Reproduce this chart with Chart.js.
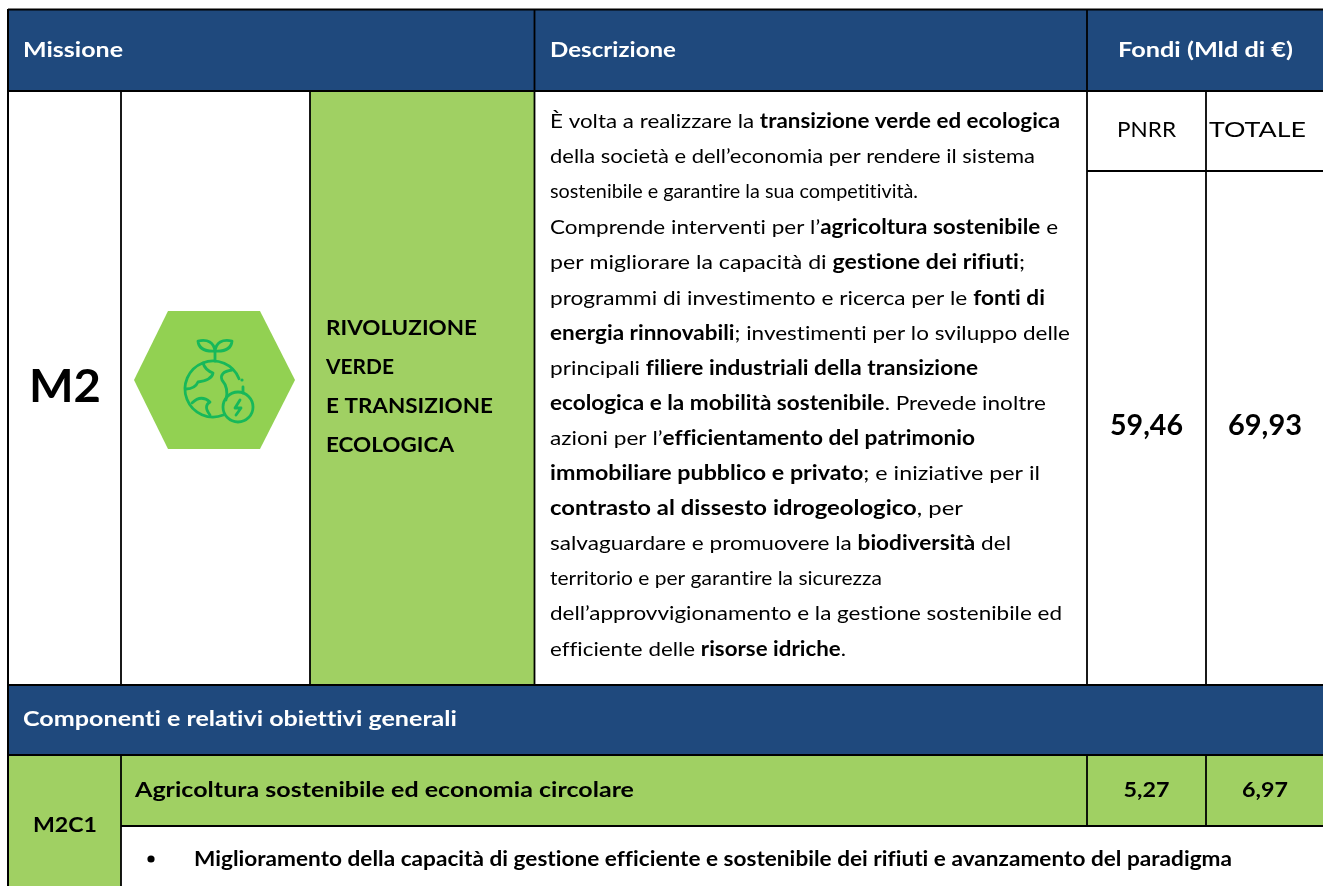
<!DOCTYPE html>
<html lang="it">
<head>
<meta charset="utf-8">
<title>M2 Rivoluzione verde e transizione ecologica</title>
<script src="https://cdn.jsdelivr.net/npm/chart.js@4"></script>
<style>
html,body{margin:0;padding:0;background:#fff;overflow:hidden}
#wrap{position:relative;width:1323px;height:886px}
canvas{display:block}
</style>
</head>
<body>
<div id="wrap"><canvas id="c" width="1323" height="886"></canvas></div>
<script>
// ---- content ----
const categories = ['M2', 'M2C1'];
const pnrrValues = [59.46, 5.27];
const totaleValues = [69.93, 6.97];
const headers = ['Missione', 'Descrizione', 'Fondi (Mld di €)'];
const fundColumns = ['PNRR', 'TOTALE'];
const missionTitle = ['RIVOLUZIONE', 'VERDE', 'E TRANSIZIONE', 'ECOLOGICA'];
const sectionTitle = 'Componenti e relativi obiettivi generali';
const componentTitle = 'Agricoltura sostenibile ed economia circolare';
const objective = 'Miglioramento della capacità di gestione efficiente e sostenibile dei rifiuti e avanzamento del paradigma';
const descriptionLines = [
  'È volta a realizzare la **transizione verde ed ecologica**',
  'della società e dell’economia per rendere il sistema',
  'sostenibile e garantire la sua competitività.',
  'Comprende interventi per l’**agricoltura sostenibile** e',
  'per migliorare la capacità di **gestione dei rifiuti**;',
  'programmi di investimento e ricerca per le **fonti di**',
  '**energia rinnovabili**; investimenti per lo sviluppo delle',
  'principali **filiere industriali della transizione**',
  '**ecologica e la mobilità sostenibile**. Prevede inoltre',
  'azioni per l’**efficientamento del patrimonio**',
  '**immobiliare pubblico e privato**; e iniziative per il',
  '**contrasto al dissesto idrogeologico**, per',
  'salvaguardare e promuovere la **biodiversità** del',
  'territorio e per garantire la sicurezza',
  'dell’approvvigionamento e la gestione sostenibile ed',
  'efficiente delle **risorse idriche**.'
];

// ---- layout and style (page geometry of the table, not data) ----
const NAVY = '#1F497D', GREEN = '#A0D063', HEX = '#92D152', ICON = '#17B85A';
const FONT = 'Lato, Carlito, sans-serif';
const descEnds = [1060,1035,918,1058,1025,1045,1070,978,1046,975,1040,963,1011,882,1062,846];
const descRows = [121,156,191,227,262,298,333,368,403,438,473,508,543,578,613,649];
const titleRows = [327,366,405,444];

const fmt = v => v.toFixed(2).replace('.', ',');

const tablePlugin = {
  id: 'tablePlugin',
  beforeDraw(chart) {
    const ctx = chart.ctx, sx = chart.scales.gridX, sy = chart.scales.gridY;
    const X = v => sx.getPixelForValue(v), Y = v => sy.getPixelForValue(v);
    const rect = (x0, y0, x1, y1, col) => { ctx.fillStyle = col; ctx.fillRect(X(x0), Y(y0), X(x1) - X(x0), Y(y1) - Y(y0)); };
    const line = (x0, y0, x1, y1, w = 1.8) => {
      ctx.strokeStyle = '#000'; ctx.lineWidth = w; ctx.beginPath();
      ctx.moveTo(X(x0), Y(y0)); ctx.lineTo(X(x1), Y(y1)); ctx.stroke();
    };
    // a tiny letter spacing switches off the font's ligatures
    const setFont = (size, bold) => {
      ctx.font = `${bold ? 'bold ' : ''}${size}px ${FONT}`;
      ctx.letterSpacing = '0.01px';
    };
    // one text piece, condensed or widened horizontally to the measured span
    const text = (str, x, y, size, opts = {}) => {
      const { bold = true, color = '#000', align = 'left', span = null } = opts;
      setFont(size, bold);
      ctx.fillStyle = color; ctx.textBaseline = 'alphabetic'; ctx.textAlign = 'left';
      const w = ctx.measureText(str).width, target = span || w;
      const x0 = align === 'center' ? x - target / 2 : x;
      ctx.save();
      ctx.translate(X(x0), Y(y) + size * 0.36);
      ctx.scale(target / w, 1);
      ctx.fillText(str, 0, 0);
      ctx.restore();
    };

    rect(0, 0, 1323, 886, '#fff');
    rect(8, 9.5, 1323, 91, NAVY);
    rect(310, 91, 534, 685, GREEN);
    rect(8, 685, 1323, 755, NAVY);
    rect(8, 755, 121, 886, GREEN);
    rect(121, 755, 1323, 826, GREEN);

    // rules
    line(8, 9.5, 1323, 9.5);
    line(8, 91, 1323, 91, 2);
    line(1087, 171, 1323, 171, 2);
    line(8, 685, 1323, 685);
    line(8, 755, 1323, 755);
    line(121, 826, 1323, 826, 2);
    line(8, 9, 8, 886, 2);
    line(534.5, 9.5, 534.5, 685);
    line(1087, 9.5, 1087, 685);
    line(121, 91, 121, 685);
    line(310, 91, 310, 685);
    line(1206, 91, 1206, 685);
    line(121, 755, 121, 886);
    line(1087, 755, 1087, 826);
    line(1206, 755, 1206, 826);

    // hexagon and icon
    ctx.fillStyle = HEX; ctx.beginPath();
    [[134,380],[168,311],[260,311],[295,380],[260,449],[168,449]].forEach((p, i) => i ? ctx.lineTo(X(p[0]), Y(p[1])) : ctx.moveTo(X(p[0]), Y(p[1])));
    ctx.closePath(); ctx.fill();
    ctx.save();
    ctx.filter = 'blur(0.5px)';
    ctx.strokeStyle = ICON; ctx.lineWidth = 2.8; ctx.lineCap = 'round'; ctx.lineJoin = 'round';
    const stroke = (fn) => { ctx.beginPath(); fn(); ctx.stroke(); };
    stroke(() => ctx.arc(X(213), Y(389), 28, Math.PI * 0.38, Math.PI * 1.88));           // globe
    stroke(() => { ctx.moveTo(X(215), Y(352)); ctx.lineTo(X(215), Y(361)); });           // stem
    stroke(() => { ctx.moveTo(X(215), Y(351)); ctx.quadraticCurveTo(X(199), Y(352), X(198), Y(341)); ctx.quadraticCurveTo(X(213), Y(338), X(215), Y(351)); });
    stroke(() => { ctx.moveTo(X(215), Y(351)); ctx.quadraticCurveTo(X(231), Y(352), X(232), Y(341)); ctx.quadraticCurveTo(X(217), Y(338), X(215), Y(351)); });
    stroke(() => ctx.arc(X(238), Y(407), 15, 0, Math.PI * 2));                           // badge
    stroke(() => { ctx.moveTo(X(240), Y(400)); ctx.lineTo(X(235), Y(408)); ctx.lineTo(X(241), Y(408)); ctx.lineTo(X(236), Y(415)); });
    stroke(() => { ctx.moveTo(X(203), Y(363)); ctx.quadraticCurveTo(X(205), Y(370), X(213), Y(373)); ctx.quadraticCurveTo(X(212), Y(380), X(198), Y(382)); ctx.quadraticCurveTo(X(195), Y(389), X(186), Y(389)); });
    stroke(() => { ctx.moveTo(X(232), Y(370)); ctx.quadraticCurveTo(X(219), Y(372), X(222), Y(380)); ctx.quadraticCurveTo(X(229), Y(388), X(226), Y(400)); });
    stroke(() => { ctx.moveTo(X(192), Y(403)); ctx.quadraticCurveTo(X(201), Y(394), X(210), Y(402)); ctx.quadraticCurveTo(X(203), Y(406), X(210), Y(415)); });
    stroke(() => { ctx.moveTo(X(243), Y(387)); ctx.lineTo(X(243), Y(393)); });
    ctx.fillStyle = ICON; ctx.beginPath(); ctx.arc(X(242), Y(380), 1.6, 0, Math.PI * 2); ctx.fill();
    ctx.restore();

    // header text
    text(headers[0], 23, 49, 21.5, { color: '#fff', span: 100 });
    text(headers[1], 550, 49, 21.5, { color: '#fff', span: 126 });
    text(headers[2], 1205.5, 49, 21.5, { color: '#fff', align: 'center', span: 175 });
    text(fundColumns[0], 1146.5, 129, 21.5, { bold: false, align: 'center', span: 59 });
    text(fundColumns[1], 1257.5, 129, 21.5, { bold: false, align: 'center', span: 97 });

    // mission row
    text(categories[0], 65, 385, 46, { align: 'center', span: 72 });
    const titleSpans = [151, 68, 167, 128];
    missionTitle.forEach((t, i) => text(t, 326, titleRows[i], 21.5, { span: titleSpans[i] }));
    text(fmt(chart.data.datasets[0].data[0]), 1146.5, 425, 29, { align: 'center', span: 73 });
    text(fmt(chart.data.datasets[1].data[0]), 1265, 425, 29, { align: 'center', span: 74 });

    // description, run by run with regular and bold pieces
    descriptionLines.forEach((raw, i) => {
      const parts = raw.split('**');
      const size = 20;
      const widthOf = (s, b) => { setFont(size, b); return ctx.measureText(s).width; };
      const natural = parts.reduce((a, s, k) => a + widthOf(s, k % 2 === 1), 0);
      const scale = (descEnds[i] - 550) / natural;
      let x = 550;
      parts.forEach((s, k) => {
        if (!s) return;
        const b = k % 2 === 1, span = widthOf(s, b) * scale;
        text(s, x, descRows[i], size, { bold: b, span });
        x += span;
      });
    });

    // section rows
    text(sectionTitle, 23, 719, 20, { color: '#fff', span: 434 });
    text(componentTitle, 135, 789, 21.5, { span: 499 });
    text(categories[1], 65, 824, 21.5, { align: 'center', span: 64 });
    text(fmt(chart.data.datasets[0].data[1]), 1146.5, 789, 21.5, { align: 'center', span: 46 });
    text(fmt(chart.data.datasets[1].data[1]), 1265, 789, 21.5, { align: 'center', span: 46 });
    ctx.fillStyle = '#000'; ctx.beginPath(); ctx.arc(X(151), Y(859), 3.6, 0, Math.PI * 2); ctx.fill();
    text(objective, 194, 859, 20, { span: 1038 });
  }
};

new Chart(document.getElementById('c'), {
  type: 'bar',
  data: {
    labels: categories,
    datasets: [
      { label: fundColumns[0], data: pnrrValues, backgroundColor: 'transparent' },
      { label: fundColumns[1], data: totaleValues, backgroundColor: 'transparent' }
    ]
  },
  options: {
    responsive: false,
    animation: false,
    events: [],
    layout: { padding: 0 },
    plugins: { legend: { display: false }, title: { display: false }, tooltip: { enabled: false } },
    scales: {
      x: { display: false },
      y: { display: false },
      gridX: { type: 'linear', axis: 'x', position: 'bottom', display: false, offset: false, min: 0, max: 1323 },
      gridY: { type: 'linear', axis: 'y', position: 'left', display: false, offset: false, min: 0, max: 886, reverse: true }
    }
  },
  plugins: [tablePlugin]
});
</script>
</body>
</html>
